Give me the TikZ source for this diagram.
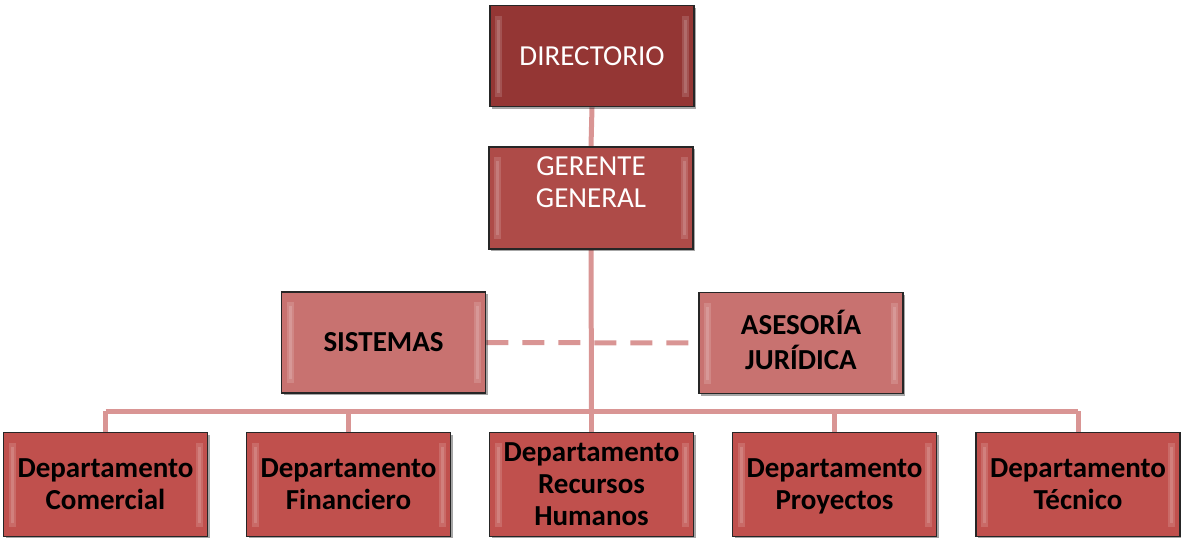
\documentclass[tikz,border=0pt]{standalone}
\usepackage{fontspec}
\setmainfont{Carlito}
\usetikzlibrary{shadows,backgrounds,calc}
\definecolor{cdir}{HTML}{943634}
\definecolor{cger}{HTML}{AE4B48}
\definecolor{cstaff}{HTML}{C87270}
\definecolor{cdep}{HTML}{C0504D}
\definecolor{cline}{HTML}{D99594}
\newcommand\tstrut{\rule[-9.6pt]{0pt}{38pt}}
\tikzset{
  boxbase/.style={draw=black!85, line width=1.6pt, minimum width=204pt, minimum height=101pt,
    inner sep=0pt, align=center, font=\fontsize{29}{32}\selectfont,
    drop shadow={shadow xshift=2pt, shadow yshift=-2pt, opacity=0.35, fill=black},
    path picture={
      \fill[white,opacity=0.15] ([shift={(5pt,-10pt)}]path picture bounding box.north west) rectangle ([shift={(12pt,10pt)}]path picture bounding box.south west);
      \fill[white,opacity=0.15] ([shift={(7pt,-14pt)}]path picture bounding box.north west) rectangle ([shift={(10pt,14pt)}]path picture bounding box.south west);
      \fill[white,opacity=0.15] ([shift={(-12pt,-10pt)}]path picture bounding box.north east) rectangle ([shift={(-5pt,10pt)}]path picture bounding box.south east);
      \fill[white,opacity=0.15] ([shift={(-10pt,-14pt)}]path picture bounding box.north east) rectangle ([shift={(-7pt,14pt)}]path picture bounding box.south east);
    }},
  topbox/.style={boxbase, fill=#1, text=white},
  staffbox/.style={boxbase, fill=cstaff, text=black, font=\fontsize{29}{32}\selectfont\bfseries},
  depbox/.style={boxbase, fill=cdep, text=black, font=\fontsize{29}{32}\selectfont\bfseries, minimum height=104pt},
  conn/.style={cline, line width=5pt},
  dashconn/.style={cline, line width=5pt, dash pattern=on 22pt off 14pt},
}
\begin{document}
\begin{tikzpicture}[x=1pt,y=-1pt]
\useasboundingbox (0,0) rectangle (1181,538);
\node[topbox=cdir] (dir) at (592,56) {DIRECTORIO};
\node[topbox=cger] (ger) at (591,198) {\tstrut GERENTE\\GENERAL\strut\\\mbox{}\strut};
\node[staffbox] (sis) at (383.5,342.5) {\tstrut SISTEMAS\strut};
\node[staffbox] (ase) at (801,343) {\tstrut ASESORÍA\\JURÍDICA\strut};
\node[depbox] (d1) at (105.5,484.5) {\tstrut Departamento\\Comercial\strut};
\node[depbox] (d2) at (348.5,484.5) {\tstrut Departamento\\Financiero\strut};
\node[depbox] (d3) at (591.5,484.5) {\tstrut Departamento\\Recursos\\Humanos\strut};
\node[depbox] (d4) at (834.5,484.5) {\tstrut Departamento\\Proyectos\strut};
\node[depbox] (d5) at (1078,484.5) {\tstrut Departamento\\Técnico\strut};
\coordinate (bus) at (591.5,411);
\begin{scope}[on background layer]
\draw[conn] (dir.south) -- (ger.north);
\draw[conn] (ger.south) -- (bus);
\draw[conn] (d1.north |- bus) -- (d5.north |- bus);
\draw[conn] (d1.north |- bus) -- (d1.north);
\draw[conn] (d2.north |- bus) -- (d2.north);
\draw[conn] (d3.north |- bus) -- (d3.north);
\draw[conn] (d4.north |- bus) -- (d4.north);
\draw[conn] (d5.north |- bus) -- (d5.north);
\draw[dashconn] (sis.east) -- (ase.west);
\end{scope}
\end{tikzpicture}
\end{document}
